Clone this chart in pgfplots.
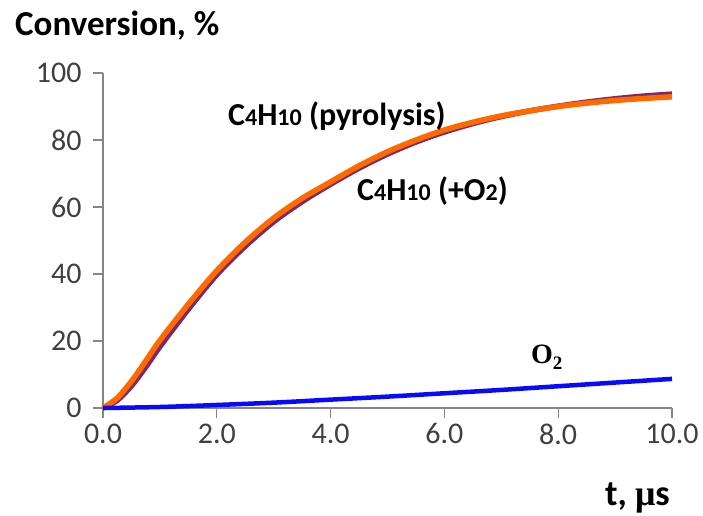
\documentclass[border=0pt]{standalone}
\usepackage{pgfplots}
\pgfplotsset{compat=1.18}
\usepackage{fontspec}
\setmainfont{Carlito}
\newfontfamily\serifb{Liberation Serif}
\definecolor{cOrange}{RGB}{255,106,0}
\definecolor{cPurple}{RGB}{125,40,105}
\definecolor{cBlue}{RGB}{10,10,250}
\definecolor{cAxis}{RGB}{134,134,134}
\definecolor{cTick}{RGB}{64,64,64}
\begin{document}
\begin{tikzpicture}
\begin{axis}[
  scale only axis, width=569pt, height=335pt,
  xmin=0, xmax=10, ymin=0, ymax=100,
  axis lines=left,
  axis line style={-, cAxis, line width=1.3pt},
  xtick={0,2,...,10}, ytick={0,20,...,100},
  tick align=outside,
  major tick length=10pt,
  tick style={draw=cAxis, line width=1.3pt},
  xticklabel style={/pgf/number format/fixed, /pgf/number format/fixed zerofill, /pgf/number format/precision=1, yshift=-2pt},
  yticklabel style={/pgf/number format/fixed, /pgf/number format/precision=0, xshift=-8pt},
  ticklabel style={font=\fontsize{30}{36}\selectfont, text=cTick},
  /pgf/number format/assume math mode=true,
  clip=false,
]
\pgfplotsinvokeforeach{0,2,4,6,8,10}{
  \draw[cAxis, line width=1.3pt] (axis cs:#1,0) -- ++(0pt,-10pt);
}
\pgfplotsinvokeforeach{0,20,40,60,80,100}{
  \draw[cAxis, line width=1.3pt] (axis cs:0,#1) -- ++(-10pt,0pt);
}
\addplot[cPurple, line width=5.5pt, smooth] coordinates {
(0,0) (0.25,2.3) (0.5,6.6) (0.75,12.2) (1.0,18.3) (1.5,29.5) (2.0,39.8) (2.5,48.3) (3.0,55.6) (3.5,61.6) (4.0,66.8) (4.5,71.6) (5.0,75.8) (5.5,79.4) (6.0,82.4) (6.5,84.9) (7.0,87.0) (7.5,88.7) (8.0,90.1) (8.5,91.3) (9.0,92.3) (9.5,93.1) (10,93.7)};
\addplot[cOrange, line width=5.5pt, smooth] coordinates {
(0,0) (0.25,3.0) (0.5,8.0) (0.75,14) (1.0,20.2) (1.5,31) (2.0,41) (2.5,49.5) (3.0,56.7) (3.5,62.6) (4.0,67.5) (4.5,72.3) (5.0,76.5) (5.5,80) (6.0,83) (6.5,85.3) (7.0,87.2) (7.5,88.7) (8.0,90) (8.5,91) (9.0,91.8) (9.5,92.4) (10,92.9)};
\addplot[cBlue, line width=4.5pt, smooth] coordinates {
(0,0) (1,0.3) (2,0.9) (3,1.6) (4,2.5) (5,3.4) (6,4.4) (7,5.4) (8,6.5) (9,7.6) (10,8.7)};
\node[anchor=base west, inner sep=0pt, font=\fontsize{35}{40}\selectfont\bfseries]
  at ([xshift=-88pt,yshift=373pt]rel axis cs:0,0) {Conversion, \%};
\node[anchor=base east, inner sep=0pt, font=\fontsize{36}{40}\selectfont\bfseries]
  at ([xshift=-2pt,yshift=-97pt]rel axis cs:1,0) {t, {\serifb\bfseries μ}s};
\node[anchor=base west, inner sep=0pt, font=\fontsize{32}{36}\selectfont\bfseries]
  at ([xshift=125pt,yshift=283pt]rel axis cs:0,0) {C{\fontsize{24}{24}\selectfont 4}H{\fontsize{24}{24}\selectfont 10} (pyrolysis)};
\node[anchor=base west, inner sep=0pt, font=\fontsize{32}{36}\selectfont\bfseries]
  at ([xshift=254pt,yshift=208pt]rel axis cs:0,0) {C{\fontsize{24}{24}\selectfont 4}H{\fontsize{24}{24}\selectfont 10} (+O{\fontsize{24}{24}\selectfont 2})};
\node[anchor=base west, inner sep=0pt, font=\fontsize{28}{32}\selectfont\serifb\bfseries]
  at ([xshift=428pt,yshift=45pt]rel axis cs:0,0) {O\raisebox{-6pt}{\fontsize{19}{19}\selectfont 2}};
\end{axis}
\pgfresetboundingbox
\useasboundingbox (current axis.origin) ++(-103pt,-107pt) rectangle ++(703pt,515pt);
\end{tikzpicture}
\end{document}
